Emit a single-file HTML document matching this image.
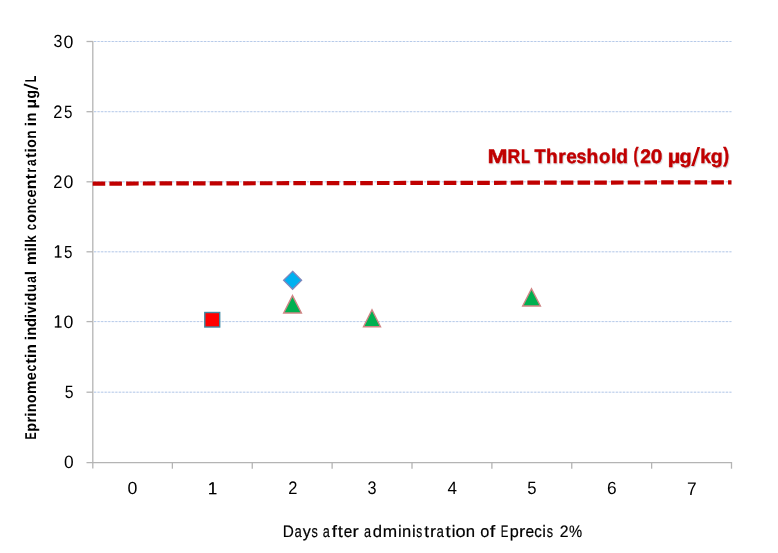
<!DOCTYPE html>
<html>
<head>
<meta charset="utf-8">
<style>
html,body{margin:0;padding:0;background:#fff;}
body{width:778px;height:553px;overflow:hidden;}
svg{display:block;will-change:transform;}
text{font-family:"Liberation Sans",sans-serif;text-rendering:geometricPrecision;}
</style>
</head>
<body>
<svg width="778" height="553" viewBox="0 0 778 553">
<defs><filter id="sh" x="-5%" y="-20%" width="110%" height="150%"><feDropShadow dx="0.7" dy="1.1" stdDeviation="0.6" flood-color="#203040" flood-opacity="0.22"/></filter></defs>
<rect width="778" height="553" fill="#fff"/>
<g stroke="#EEF2FA" stroke-width="1">
<line x1="94" y1="41.5" x2="731.5" y2="41.5"/>
<line x1="94" y1="111.7" x2="731.5" y2="111.7"/>
<line x1="94" y1="181.8" x2="731.5" y2="181.8"/>
<line x1="94" y1="251.8" x2="731.5" y2="251.8"/>
<line x1="94" y1="321.6" x2="731.5" y2="321.6"/>
<line x1="94" y1="392.2" x2="731.5" y2="392.2"/>
</g>
<g stroke="#B6CAE9" stroke-width="1" stroke-dasharray="2.1 1.45">
<line x1="94" y1="41.5" x2="731.5" y2="41.5"/>
<line x1="94" y1="111.7" x2="731.5" y2="111.7"/>
<line x1="94" y1="181.8" x2="731.5" y2="181.8"/>
<line x1="94" y1="251.8" x2="731.5" y2="251.8"/>
<line x1="94" y1="321.6" x2="731.5" y2="321.6"/>
<line x1="94" y1="392.2" x2="731.5" y2="392.2"/>
</g>
<g stroke="#B4B4B4" stroke-width="1.3">
<line x1="92.8" y1="41" x2="92.8" y2="468.5"/>
<line x1="86.5" y1="462.6" x2="732" y2="462.6"/>
<line x1="86.5" y1="41.5" x2="92.8" y2="41.5"/>
<line x1="86.5" y1="111.7" x2="92.8" y2="111.7"/>
<line x1="86.5" y1="181.8" x2="92.8" y2="181.8"/>
<line x1="86.5" y1="251.8" x2="92.8" y2="251.8"/>
<line x1="86.5" y1="321.6" x2="92.8" y2="321.6"/>
<line x1="86.5" y1="392.2" x2="92.8" y2="392.2"/>
<line x1="172.38" y1="462" x2="172.38" y2="468.7"/>
<line x1="252.25" y1="462" x2="252.25" y2="468.7"/>
<line x1="332.12" y1="462" x2="332.12" y2="468.7"/>
<line x1="412.0" y1="462" x2="412.0" y2="468.7"/>
<line x1="491.88" y1="462" x2="491.88" y2="468.7"/>
<line x1="571.75" y1="462" x2="571.75" y2="468.7"/>
<line x1="651.62" y1="462" x2="651.62" y2="468.7"/>
<line x1="731.5" y1="462" x2="731.5" y2="468.7"/>
</g>
<g font-size="18"><text transform="translate(53.39,47.43) scale(0.891,0.981)">3</text><text transform="translate(63.41,47.62) scale(0.988,0.997)">0</text><text transform="translate(53.27,117.60) scale(0.915,1.010)">2</text><text transform="translate(63.99,117.63) scale(0.844,0.995)">5</text><text transform="translate(53.27,187.60) scale(0.915,1.010)">2</text><text transform="translate(63.41,187.62) scale(0.988,1.012)">0</text><text transform="translate(63.99,257.63) scale(0.844,0.979)">5</text><text transform="translate(63.41,327.62) scale(0.988,0.997)">0</text><text transform="translate(64.67,397.63) scale(0.879,0.995)">5</text><text transform="translate(64.12,467.73) scale(0.965,0.989)">0</text><text transform="translate(127.61,494.13) scale(0.988,0.981)">0</text><text transform="translate(288.27,494.30) scale(0.915,1.010)">2</text><text transform="translate(367.58,494.32) scale(0.902,1.012)">3</text><text transform="translate(447.61,494.30) scale(0.948,0.993)">4</text><text transform="translate(527.23,494.33) scale(0.926,0.995)">5</text><text transform="translate(607.02,494.33) scale(0.963,0.981)">6</text><text transform="translate(687.11,494.60) scale(0.965,1.017)">7</text></g>
<g stroke="#000" fill="none" stroke-linecap="butt"><line x1="58.34" y1="245.30" x2="58.34" y2="257.30" stroke-width="1.7"/><line x1="57.94" y1="245.70" x2="55.10" y2="248.00" stroke-width="1.3"/><line x1="54.80" y1="256.95" x2="61.60" y2="256.95" stroke-width="1.3"/></g>
<g stroke="#000" fill="none" stroke-linecap="butt"><line x1="58.34" y1="315.30" x2="58.34" y2="327.30" stroke-width="1.7"/><line x1="57.94" y1="315.70" x2="55.10" y2="318.00" stroke-width="1.3"/><line x1="54.80" y1="326.95" x2="61.60" y2="326.95" stroke-width="1.3"/></g>
<g stroke="#000" fill="none" stroke-linecap="butt"><line x1="212.96" y1="482.20" x2="212.96" y2="494.00" stroke-width="1.7"/><line x1="212.56" y1="482.60" x2="209.40" y2="484.90" stroke-width="1.3"/><line x1="209.10" y1="493.65" x2="216.50" y2="493.65" stroke-width="1.3"/></g>
<g role="img" aria-label="Days after administration of Eprecis 2%" font-size="16.6" stroke="#000" stroke-width="0.2"><text transform="translate(282.64,536.80) scale(0.926,1.000)">D</text><text transform="translate(294.45,536.80) scale(0.786,1.000)">a</text><text transform="translate(302.66,536.80) scale(0.972,1.000)">y</text><text transform="translate(311.55,536.80) scale(0.760,1.000)">s</text><text transform="translate(322.86,536.80) scale(0.762,1.000)">a</text><text transform="translate(331.63,536.80) scale(1.136,1.000)">f</text><text transform="translate(337.82,536.80) scale(1.109,1.000)">t</text><text transform="translate(343.65,536.80) scale(0.924,1.000)">e</text><text transform="translate(352.55,536.80) scale(1.133,1.000)">r</text><text transform="translate(363.96,536.80) scale(0.762,1.000)">a</text><text transform="translate(372.80,536.80) scale(1.005,1.000)">d</text><text transform="translate(382.65,536.80) scale(1.040,1.000)">m</text><text transform="translate(398.01,536.80) scale(1.000,1.000)">i</text><text transform="translate(401.91,536.80) scale(0.993,1.000)">n</text><text transform="translate(411.91,536.80) scale(1.000,1.000)">i</text><text transform="translate(416.37,536.80) scale(0.718,1.000)">s</text><text transform="translate(424.14,536.80) scale(1.038,1.000)">t</text><text transform="translate(429.90,536.80) scale(1.084,1.000)">r</text><text transform="translate(436.44,536.80) scale(0.797,1.000)">a</text><text transform="translate(445.52,536.80) scale(1.109,1.000)">t</text><text transform="translate(451.66,536.80) scale(1.000,1.000)">i</text><text transform="translate(455.54,536.80) scale(1.097,1.000)">o</text><text transform="translate(465.79,536.80) scale(1.007,1.000)">n</text><text transform="translate(480.22,536.80) scale(0.982,1.000)">o</text><text transform="translate(489.82,536.80) scale(1.181,1.000)">f</text><text transform="translate(500.76,536.80) scale(0.689,1.000)">E</text><text transform="translate(509.65,536.80) scale(0.978,1.000)">p</text><text transform="translate(518.95,536.80) scale(1.133,1.000)">r</text><text transform="translate(525.44,536.80) scale(0.937,1.000)">e</text><text transform="translate(534.26,536.80) scale(0.908,1.000)">c</text><text transform="translate(542.26,536.80) scale(1.000,1.000)">i</text><text transform="translate(546.65,536.80) scale(0.760,1.000)">s</text><text transform="translate(559.71,536.80) scale(0.952,1.000)">2</text><text transform="translate(569.07,536.80) scale(0.891,1.000)">%</text></g>
<g transform="rotate(-90)"><g role="img" aria-label="Eprinomectin individual milk concentration in µg/L" font-size="15.5" font-weight="bold"><text transform="translate(-439.52,36.00) scale(0.690,1.013)">E</text><text transform="translate(-431.77,36.00) scale(0.947,1.000)">p</text><text transform="translate(-422.58,36.00) scale(0.963,1.000)">r</text><text transform="translate(-416.75,36.00) scale(1.000,1.000)">i</text><text transform="translate(-412.26,36.00) scale(0.935,1.000)">n</text><text transform="translate(-403.04,36.00) scale(0.896,1.000)">o</text><text transform="translate(-393.89,36.00) scale(0.966,1.000)">m</text><text transform="translate(-380.37,36.00) scale(0.935,1.000)">e</text><text transform="translate(-371.49,36.00) scale(0.807,1.000)">c</text><text transform="translate(-363.81,36.00) scale(1.087,1.000)">t</text><text transform="translate(-357.90,36.00) scale(1.000,1.000)">i</text><text transform="translate(-353.41,36.00) scale(0.989,1.000)">n</text><text transform="translate(-340.35,36.00) scale(1.000,1.000)">i</text><text transform="translate(-335.87,36.00) scale(0.949,1.000)">n</text><text transform="translate(-327.11,36.00) scale(0.960,1.000)">d</text><text transform="translate(-318.25,36.00) scale(1.000,1.000)">i</text><text transform="translate(-313.55,36.00) scale(0.848,1.000)">v</text><text transform="translate(-305.80,36.00) scale(1.000,1.000)">i</text><text transform="translate(-301.16,36.00) scale(0.883,1.000)">d</text><text transform="translate(-291.91,36.00) scale(0.842,1.000)">u</text><text transform="translate(-282.85,36.00) scale(0.762,1.000)">a</text><text transform="translate(-275.15,36.00) scale(1.000,1.000)">l</text><text transform="translate(-265.11,36.00) scale(0.992,1.000)">m</text><text transform="translate(-251.45,36.00) scale(1.000,1.000)">i</text><text transform="translate(-247.35,36.00) scale(1.000,1.000)">l</text><text transform="translate(-242.83,36.00) scale(0.861,1.000)">k</text><text transform="translate(-230.15,36.00) scale(0.741,1.000)">c</text><text transform="translate(-222.86,36.00) scale(0.920,1.000)">o</text><text transform="translate(-213.54,36.00) scale(0.922,1.000)">n</text><text transform="translate(-204.66,36.00) scale(0.767,1.000)">c</text><text transform="translate(-197.47,36.00) scale(0.935,1.000)">e</text><text transform="translate(-189.25,36.00) scale(1.029,1.000)">n</text><text transform="translate(-179.19,36.00) scale(1.004,1.000)">t</text><text transform="translate(-172.59,36.00) scale(0.775,1.000)">r</text><text transform="translate(-166.05,36.00) scale(0.762,1.000)">a</text><text transform="translate(-157.99,36.00) scale(0.983,1.000)">t</text><text transform="translate(-152.40,36.00) scale(1.000,1.000)">i</text><text transform="translate(-147.75,36.00) scale(0.908,1.000)">o</text><text transform="translate(-138.71,36.00) scale(0.895,1.000)">n</text><text transform="translate(-126.15,36.00) scale(1.000,1.000)">i</text><text transform="translate(-121.47,36.00) scale(0.949,1.000)">n</text><text transform="translate(-108.63,36.00) scale(1.117,1.000)">µ</text><text transform="translate(-98.56,36.00) scale(0.885,1.000)">g</text><text transform="translate(-82.22,36.00) scale(0.691,1.013)">L</text></g></g>
<line x1="23.9" y1="84.3" x2="37.9" y2="89.1" stroke="#000" stroke-width="1.75"/>
<line x1="92.7" y1="183.6" x2="731.5" y2="182.3" stroke="#C00000" stroke-width="4.2" stroke-dasharray="12.54 4.18"/>
<g filter="url(#sh)">
<g role="img" aria-label="MRL Threshold (20 µg/kg)" font-size="19.6" font-weight="bold" fill="#C00000" stroke="#C00000" stroke-width="0.45" stroke-linejoin="round"><text transform="translate(487.51,162.80) scale(1.230,1.000)">M</text><text transform="translate(507.54,162.80) scale(0.897,1.000)">R</text><text transform="translate(520.93,162.80) scale(0.752,1.000)">L</text><text transform="translate(534.61,162.80) scale(0.932,1.000)">T</text><text transform="translate(545.98,162.80) scale(0.976,1.000)">h</text><text transform="translate(558.24,162.80) scale(0.987,1.000)">r</text><text transform="translate(566.18,162.80) scale(0.968,1.000)">e</text><text transform="translate(576.49,162.80) scale(0.910,1.000)">s</text><text transform="translate(586.57,162.80) scale(0.986,1.000)">h</text><text transform="translate(599.09,162.80) scale(0.954,1.000)">o</text><text transform="translate(610.89,162.80) scale(1.000,1.000)">l</text><text transform="translate(616.23,162.80) scale(0.978,1.000)">d</text><text transform="translate(633.57,162.27) scale(0.770,1.060)">(</text><text transform="translate(640.15,162.80) scale(0.981,1.000)">2</text><text transform="translate(650.79,162.80) scale(1.068,1.000)">0</text><text transform="translate(667.79,162.80) scale(1.116,1.000)">µ</text><text transform="translate(679.61,162.80) scale(1.010,1.000)">g</text><text transform="translate(700.26,162.80) scale(0.990,1.000)">k</text><text transform="translate(710.72,162.80) scale(1.000,1.000)">g</text><text transform="translate(723.20,162.27) scale(0.897,1.060)">)</text></g>
<polygon points="697.4,147.1 700.1,147.1 694.1,165.9 691.2,165.9" fill="#C00000"/>
</g>
<rect x="204.8" y="312.5" width="14.9" height="14.5" fill="#FF0000" stroke="#3F89A2" stroke-width="1.4"/>
<polygon points="292.6,271.3 301.6,280.3 292.6,289.3 283.6,280.3" fill="#00B0F0" stroke="#8086BC" stroke-width="1.3"/>
<polygon points="292.5,295.6 301.4,313 283.7,313" fill="#00B050" stroke="#D08585" stroke-width="1.4"/>
<polygon points="372,309.7 380.5,326.8 363.5,326.8" fill="#00B050" stroke="#D08585" stroke-width="1.4"/>
<polygon points="531.5,288.8 540.4,306 522.7,306" fill="#00B050" stroke="#D08585" stroke-width="1.4"/>
</svg>
</body>
</html>
